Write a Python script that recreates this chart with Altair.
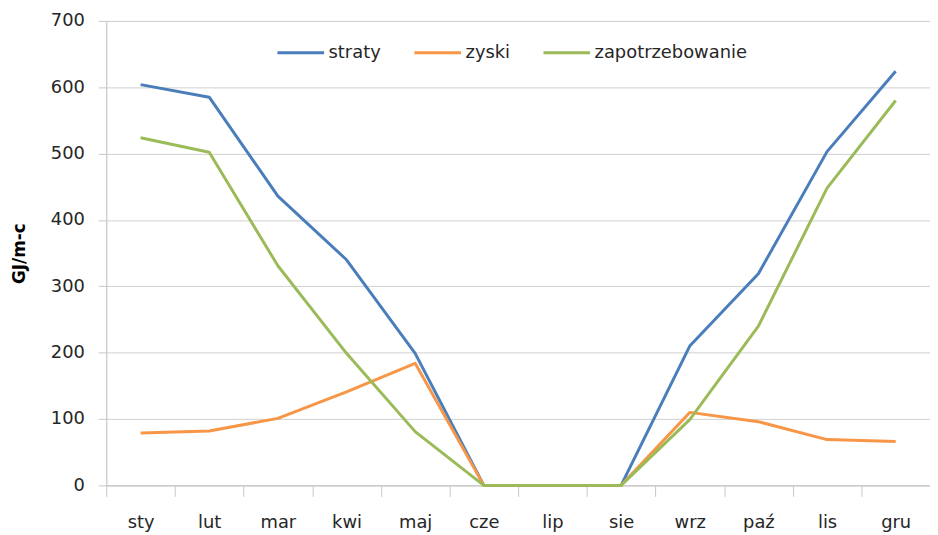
import altair as alt
import pandas as pd

months = ["sty", "lut", "mar", "kwi", "maj", "cze", "lip", "sie", "wrz", "paź", "lis", "gru"]
straty = [604, 585, 436, 340, 199, 0, 0, 0, 210, 319, 503, 624]
zyski = [79, 82, 101, 141, 184, 0, 0, 0, 110, 96, 69, 66]
zapotrzebowanie = [524, 502, 331, 199, 81, 0, 0, 0, 99, 240, 448, 580]

series_names = ["straty", "zyski", "zapotrzebowanie"]
series_colors = ["#4a7ebb", "#f79646", "#9bbb59"]

rows = []
for name, vals in zip(series_names, [straty, zyski, zapotrzebowanie]):
    for m, v in zip(months, vals):
        rows.append({"miesiac": m, "wartosc": v, "seria": name, "ord": series_names.index(name)})
df = pd.DataFrame(rows)

FONT = "DejaVu Sans"
TXT = "#262626"

chart = (
    alt.Chart(df)
    .mark_line(strokeWidth=3, strokeJoin="round")
    .encode(
        x=alt.X(
            "miesiac:N",
            sort=months,
            bandPosition=0.5,
            scale=alt.Scale(type="band", paddingInner=0, paddingOuter=0),
            axis=alt.Axis(
                title=None,
                labelAngle=0,
                tickBand="extent",
                tickSize=11,
                tickColor="#c8c8c8",
                domainColor="#c8c8c8",
                labelPadding=17,
                labelFontSize=18,
                labelFont=FONT,
                labelColor=TXT,
                grid=False,
            ),
        ),
        y=alt.Y(
            "wartosc:Q",
            scale=alt.Scale(domain=[0, 700], nice=False),
            axis=alt.Axis(
                title="GJ/m-c",
                titleFont=FONT,
                titleFontSize=17,
                titleFontWeight="bold",
                titleColor="#000000",
                titleAlign="center",
                titleBaseline="middle",
                titleX=-87,
                titleY=234,
                titleAngle=270,
                values=[0, 100, 200, 300, 400, 500, 600, 700],
                tickSize=8,
                tickColor="#c8c8c8",
                domainColor="#c8c8c8",
                gridColor="#d0d0d0",
                labelPadding=14,
                labelFontSize=18,
                labelFont=FONT,
                labelColor=TXT,
            ),
        ),
        color=alt.Color(
            "seria:N",
            sort=series_names,
            scale=alt.Scale(domain=series_names, range=series_colors),
            legend=alt.Legend(
                title=None,
                orient="none",
                direction="horizontal",
                legendX=171,
                legendY=7,
                symbolType="stroke",
                symbolSize=2209,
                symbolStrokeWidth=3,
                labelFont=FONT,
                labelFontSize=18,
                labelColor=TXT,
                labelOffset=3,
                columnPadding=27,
            ),
        ),
        order=alt.Order("ord:Q"),
    )
    .properties(
        width=830,
        height=468,
        autosize=alt.AutoSizeParams(type="none"),
        padding={"left": 99, "top": 11, "right": 0, "bottom": 50},
    )
    .configure_view(stroke=None)
    .configure(background="white")
)

chart.save("out.html", embed_options={"renderer": "svg", "actions": False})
